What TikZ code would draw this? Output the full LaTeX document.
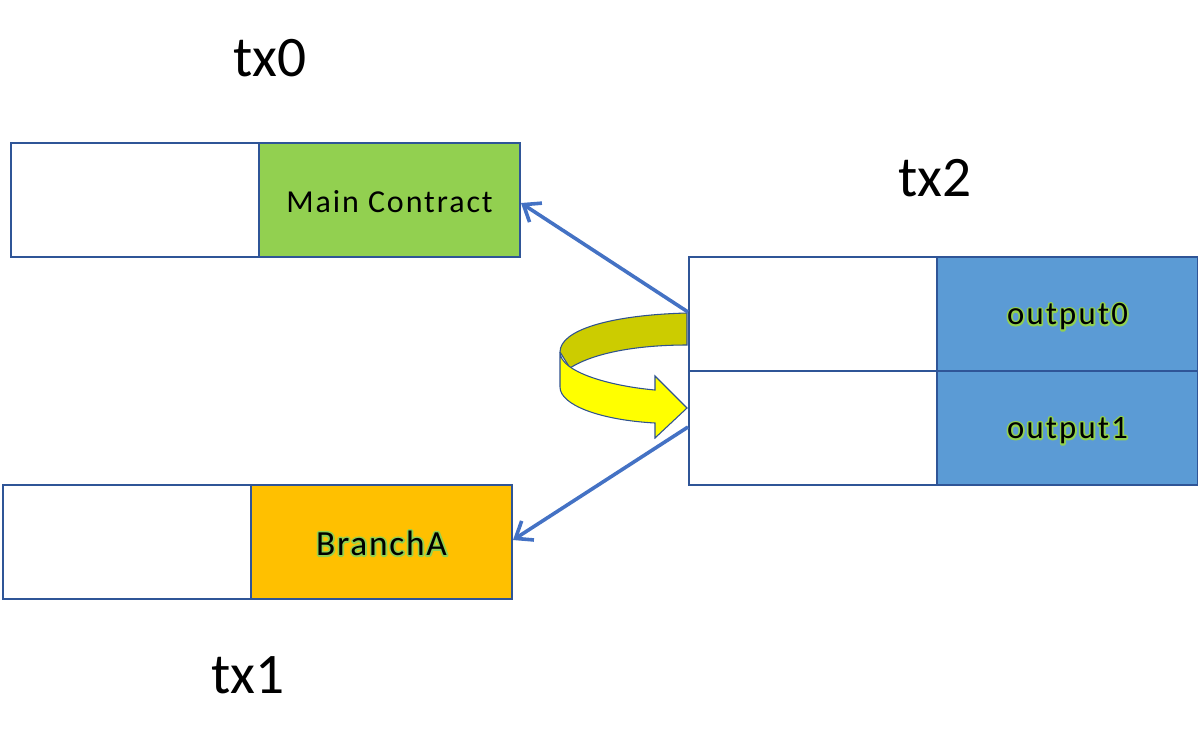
\documentclass[tikz,border=0pt]{standalone}
\usepackage{fontspec}
\setmainfont{Carlito}
\usetikzlibrary{arrows.meta}
\definecolor{bord}{HTML}{2F5597}
\definecolor{lnk}{HTML}{4472C4}
\definecolor{cgreen}{HTML}{92D050}
\definecolor{corange}{HTML}{FFC000}
\definecolor{cblue}{HTML}{5B9BD5}
\definecolor{glow}{HTML}{92D050}
\definecolor{ydark}{HTML}{CCCC00}
\definecolor{ylight}{HTML}{FFFF00}
\definecolor{yedge}{HTML}{2F528F}
\newcommand\glowed[1]{\rlap{\color{glow}\special{pdf:literal direct 2 Tr 2.6 w 1 j}#1\special{pdf:literal direct 0 Tr 1 w 0 j}}#1}
\tikzset{
  cell/.style={draw=bord, line width=1.5pt, inner sep=0pt, anchor=north west,
    minimum width=186pt, minimum height=85.5pt},
  wcell/.style={cell, fill=white},
  ccell/.style={cell, minimum width=195.75pt, text depth=0pt},
  title/.style={font=\fontsize{43}{48}\selectfont, inner sep=0pt},
  link/.style={draw=lnk, line width=2.7pt, -{Straight Barb[length=11pt,width=17pt,line width=2.7pt]}},
  ribbon/.style={draw=yedge, line width=0.8pt}
}
\begin{document}
\begin{tikzpicture}[x=0.75pt,y=-0.75pt]
\useasboundingbox (0,0) rectangle (1198,744);
% tx0
\node[wcell] (w0) at (10,142) {};
\node[ccell, fill=cgreen, font=\fontsize{24}{28}\selectfont\addfontfeature{LetterSpace=6}] (mc) at (258,142) {\raisebox{-2pt}{Main Contract}};
% tx1
\node[wcell] (w1) at (2,484) {};
\node[ccell, fill=corange, font=\fontsize{26.5}{30}\selectfont\addfontfeature{LetterSpace=5}] (br) at (250,484) {\raisebox{-1.5pt}{\glowed{BranchA}}};
% tx2
\node[wcell] (w2a) at (688,256) {};
\node[ccell, fill=cblue, font=\fontsize{24.5}{28}\selectfont\addfontfeature{LetterSpace=7}] (o0) at (936,256) {\glowed{output0}};
\node[wcell] (w2b) at (688,370) {};
\node[ccell, fill=cblue, font=\fontsize{24.5}{28}\selectfont\addfontfeature{LetterSpace=7}] (o1) at (936,370) {\glowed{output1}};
% titles
\node[title] (t0) at (270,58) {tx0};
\node[title] (t2) at (935,178) {tx2};
\node[title] (t1) at (248,675) {tx1};
% curved yellow arrow
\path[ribbon, fill=ydark] (687,313) .. controls (610,315) and (560,330) .. (560,352)
  -- (570,368) .. controls (595,352) and (640,345) .. (687,345) -- cycle;
\path[ribbon, fill=ylight] (560,352) .. controls (560,372) and (610,386) .. (655,390)
  -- (655,376) -- (687,408) -- (655,438) -- (655,423)
  .. controls (600,420) and (560,405) .. (560,387) -- cycle;
% connectors
\coordinate (s0) at (688,312);
\coordinate (s1) at (688,427);
\draw[link] (s0) -- (mc.east |- 0,203);
\draw[link] (s1) -- (br.east |- 0,540);
\end{tikzpicture}
\end{document}
